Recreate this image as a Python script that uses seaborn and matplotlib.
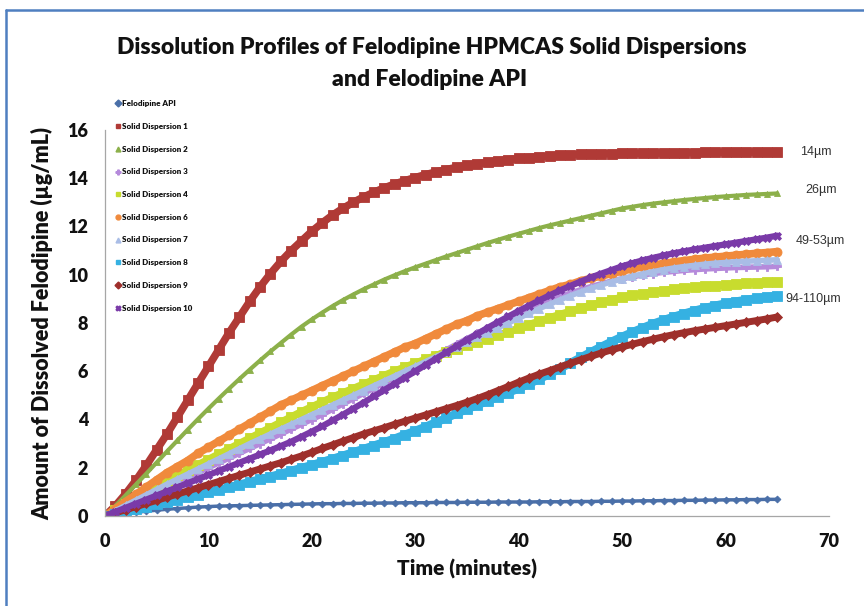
import matplotlib
matplotlib.use("Agg")
import matplotlib.pyplot as plt
import seaborn as sns
from matplotlib.lines import Line2D

# ---------------- data ----------------
time_min = list(range(0, 66))

felodipine_api = [0.0, 0.05, 0.1, 0.15, 0.2, 0.24, 0.28, 0.31, 0.34, 0.37, 0.39, 0.41, 0.42, 0.43, 0.44, 0.45,
                  0.46, 0.47, 0.48, 0.49, 0.5, 0.51, 0.51, 0.52, 0.52, 0.53, 0.53, 0.54, 0.54, 0.55, 0.55,
                  0.55, 0.56, 0.56, 0.56, 0.57, 0.57, 0.57, 0.58, 0.58, 0.58, 0.58, 0.59, 0.59, 0.59, 0.6,
                  0.6, 0.6, 0.61, 0.61, 0.62, 0.62, 0.63, 0.63, 0.64, 0.64, 0.65, 0.65, 0.66, 0.66, 0.67,
                  0.67, 0.68, 0.68, 0.69, 0.69]
sd1 = [0.0, 0.42, 0.92, 1.48, 2.1, 2.75, 3.4, 4.1, 4.8, 5.5, 6.2, 6.9, 7.6, 8.25, 8.9, 9.5, 10.05, 10.55,
       11.0, 11.4, 11.8, 12.15, 12.47, 12.75, 13.0, 13.22, 13.42, 13.6, 13.76, 13.9, 14.03, 14.15, 14.26,
       14.36, 14.45, 14.53, 14.6, 14.66, 14.72, 14.77, 14.82, 14.86, 14.89, 14.92, 14.95, 14.97, 14.99,
       15.0, 15.01, 15.02, 15.03, 15.03, 15.04, 15.04, 15.05, 15.05, 15.06, 15.06, 15.07, 15.07, 15.08,
       15.08, 15.08, 15.09, 15.09, 15.1]
sd2 = [0.0, 0.42, 0.86, 1.31, 1.76, 2.22, 2.68, 3.13, 3.58, 4.02, 4.45, 4.87, 5.28, 5.68, 6.07, 6.45, 6.82,
       7.17, 7.52, 7.85, 8.15, 8.43, 8.7, 8.95, 9.18, 9.4, 9.6, 9.8, 9.98, 10.15, 10.31, 10.46, 10.61, 10.76,
       10.9, 11.04, 11.18, 11.32, 11.45, 11.58, 11.7, 11.82, 11.94, 12.05, 12.15, 12.25, 12.35, 12.45, 12.55,
       12.65, 12.75, 12.82, 12.89, 12.95, 13.0, 13.05, 13.1, 13.14, 13.18, 13.22, 13.25, 13.28, 13.31,
       13.33, 13.35, 13.37]
sd3 = [0.0, 0.2, 0.4, 0.6, 0.8, 1.0, 1.2, 1.4, 1.6, 1.8, 2.0, 2.2, 2.4, 2.6, 2.8, 3.0, 3.2, 3.4, 3.6, 3.8,
       4.0, 4.2, 4.42, 4.64, 4.86, 5.08, 5.3, 5.52, 5.75, 5.97, 6.2, 6.43, 6.66, 6.89, 7.12, 7.35, 7.57, 7.79,
       8.0, 8.2, 8.4, 8.58, 8.76, 8.93, 9.09, 9.24, 9.38, 9.51, 9.63, 9.74, 9.84, 9.92, 9.99, 10.05, 10.1,
       10.14, 10.18, 10.21, 10.24, 10.26, 10.28, 10.3, 10.31, 10.32, 10.33, 10.35]
sd4 = [0.0, 0.25, 0.5, 0.75, 0.98, 1.2, 1.45, 1.68, 1.9, 2.12, 2.34, 2.56, 2.78, 3.0, 3.22, 3.44, 3.66, 3.88,
       4.1, 4.32, 4.52, 4.72, 4.92, 5.1, 5.28, 5.46, 5.64, 5.82, 6.0, 6.17, 6.33, 6.49, 6.64, 6.79, 6.93, 7.07,
       7.21, 7.35, 7.49, 7.63, 7.78, 7.93, 8.07, 8.21, 8.35, 8.48, 8.61, 8.73, 8.85, 8.96, 9.06, 9.14, 9.21,
       9.28, 9.34, 9.39, 9.44, 9.48, 9.52, 9.55, 9.58, 9.61, 9.64, 9.67, 9.69, 9.71]
sd6 = [0.0, 0.3, 0.6, 0.9, 1.2, 1.5, 1.8, 2.05, 2.3, 2.6, 2.85, 3.1, 3.35, 3.6, 3.85, 4.1, 4.35, 4.6, 4.8,
       5.0, 5.2, 5.4, 5.6, 5.8, 6.0, 6.2, 6.4, 6.6, 6.8, 7.0, 7.15, 7.35, 7.55, 7.75, 7.95, 8.1, 8.3, 8.45,
       8.6, 8.75, 8.9, 9.05, 9.2, 9.35, 9.5, 9.6, 9.75, 9.85, 9.95, 10.05, 10.15, 10.25, 10.33, 10.4, 10.47,
       10.53, 10.59, 10.64, 10.69, 10.73, 10.77, 10.81, 10.85, 10.89, 10.92, 10.96]
sd7 = [0.0, 0.22, 0.44, 0.66, 0.88, 1.1, 1.32, 1.53, 1.74, 1.95, 2.16, 2.37, 2.58, 2.79, 3.0, 3.2, 3.4, 3.6,
       3.8, 4.0, 4.2, 4.4, 4.6, 4.8, 5.0, 5.2, 5.4, 5.6, 5.8, 6.0, 6.2, 6.4, 6.6, 6.8, 7.0, 7.2, 7.4, 7.6, 7.8,
       8.0, 8.2, 8.4, 8.6, 8.78, 8.96, 9.13, 9.29, 9.44, 9.58, 9.71, 9.83, 9.94, 10.04, 10.13, 10.21, 10.28,
       10.34, 10.39, 10.44, 10.48, 10.51, 10.54, 10.56, 10.58, 10.6, 10.62]
sd8 = [0.0, 0.09, 0.18, 0.28, 0.38, 0.48, 0.58, 0.68, 0.78, 0.88, 0.98, 1.08, 1.19, 1.3, 1.41, 1.52, 1.63,
       1.75, 1.87, 1.99, 2.11, 2.24, 2.37, 2.5, 2.64, 2.78, 2.92, 3.06, 3.21, 3.37, 3.53, 3.7, 3.88, 4.06,
       4.25, 4.43, 4.6, 4.77, 4.94, 5.11, 5.29, 5.48, 5.68, 5.89, 6.11, 6.34, 6.57, 6.8, 7.02, 7.23, 7.43,
       7.62, 7.8, 7.97, 8.12, 8.26, 8.39, 8.51, 8.62, 8.72, 8.81, 8.89, 8.96, 9.02, 9.07, 9.12]
sd9 = [0.0, 0.13, 0.26, 0.39, 0.52, 0.65, 0.78, 0.91, 1.04, 1.17, 1.3, 1.43, 1.56, 1.69, 1.82, 1.95, 2.08,
       2.21, 2.35, 2.49, 2.64, 2.8, 2.95, 3.1, 3.25, 3.4, 3.53, 3.66, 3.8, 3.93, 4.06, 4.19, 4.32, 4.45, 4.58,
       4.72, 4.87, 5.03, 5.2, 5.37, 5.55, 5.72, 5.88, 6.03, 6.18, 6.33, 6.48, 6.62, 6.76, 6.89, 7.01, 7.12,
       7.23, 7.33, 7.43, 7.52, 7.6, 7.68, 7.75, 7.82, 7.89, 7.96, 8.03, 8.1, 8.17, 8.25]
sd10 = [0.0, 0.17, 0.34, 0.51, 0.68, 0.85, 1.02, 1.19, 1.36, 1.53, 1.7, 1.87, 2.04, 2.21, 2.38, 2.55, 2.72,
        2.9, 3.08, 3.29, 3.5, 3.72, 3.96, 4.2, 4.45, 4.7, 4.96, 5.22, 5.48, 5.74, 6.0, 6.26, 6.52, 6.78,
        7.04, 7.3, 7.55, 7.8, 8.04, 8.27, 8.5, 8.72, 8.94, 9.15, 9.35, 9.54, 9.72, 9.89, 10.05, 10.2,
        10.35, 10.48, 10.6, 10.7, 10.8, 10.89, 10.97, 11.05, 11.12, 11.19, 11.26, 11.33, 11.4, 11.47, 11.54,
        11.62]

series_names = ["Felodipine API", "Solid Dispersion 1", "Solid Dispersion 2", "Solid Dispersion 3",
                "Solid Dispersion 4", "Solid Dispersion 6", "Solid Dispersion 7", "Solid Dispersion 8",
                "Solid Dispersion 9", "Solid Dispersion 10"]
series_values = [felodipine_api, sd1, sd2, sd3, sd4, sd6, sd7, sd8, sd9, sd10]

size_labels = ["14\u00b5m", "26\u00b5m", "49-53\u00b5m", "94-110\u00b5m"]
x_ticks = [0, 10, 20, 30, 40, 50, 60, 70]
y_ticks = [0, 2, 4, 6, 8, 10, 12, 14, 16]

# ---------------- styles ----------------
colors = ["#4A6FA8", "#B03A36", "#8CB04A", "#B58ADB", "#C8DC2E", "#F08A3C",
          "#A9BDE6", "#35B1E2", "#9E2F2B", "#7A3AA8"]
markers = ["D", "s", "^", "P", "s", "o", "^", "s", "D", "X"]
msizes = [3.5, 6.5, 4.5, 5.5, 6.5, 6.5, 5.5, 6.5, 5.5, 5.5]
lwidths = [2.5, 5.5, 3.0, 4.0, 5.5, 5.5, 4.0, 6.0, 5.0, 4.5]

sns.set_theme(style="white")
plt.rcParams['font.family'] = ['Lato', 'DejaVu Sans']

fig = plt.figure(figsize=(8.64, 6.06), dpi=100)
ax = fig.add_axes([105 / 864, 1 - 516 / 606, 724 / 864, 386 / 606])

for name, vals, c, m, ms, lw in zip(series_names, series_values, colors, markers, msizes, lwidths):
    sns.lineplot(x=time_min, y=vals, ax=ax, color=c, linewidth=lw, marker=m, markersize=ms,
                 markeredgecolor=c, markeredgewidth=0.6, label=name, legend=False)

ax.set_xlim(0, 70)
ax.set_ylim(0, 16)
ax.set_xticks(x_ticks)
ax.set_yticks(y_ticks)
ax.tick_params(axis='both', which='major', labelsize=13, length=4, width=0.8, color="#A0A0A0",
               direction='out', pad=8)
for lab in ax.get_xticklabels() + ax.get_yticklabels():
    lab.set_fontweight('heavy')
    lab.set_color('#111111')
for side in ["top", "right"]:
    ax.spines[side].set_visible(False)
for side in ["left", "bottom"]:
    ax.spines[side].set_color("#A6A6A6")
    ax.spines[side].set_linewidth(0.9)

ax.set_xlabel("Time (minutes)", fontsize=15, fontweight='heavy', labelpad=7, color='#111111')
ax.set_ylabel("Amount of Dissolved Felodipine (\u00b5g/mL)", fontsize=15.5, fontweight='heavy',
              labelpad=10, color='#111111')

fig.text(0.5, 1 - 47 / 606, "Dissolution Profiles of Felodipine HPMCAS Solid Dispersions",
         ha='center', va='center', fontsize=16.5, fontweight='heavy', color='#111111')
fig.text(0.497, 1 - 80 / 606, "and Felodipine API", ha='center', va='center', fontsize=16.5,
         fontweight='heavy', color='#111111')

# legend
handles = [Line2D([0], [0], color=c, marker=m, linestyle='none', markersize=3.5, markeredgecolor=c)
           for c, m in zip(colors, markers)]
leg = ax.legend(handles, series_names, loc='upper left', bbox_to_anchor=(112 / 864, 1 - 97 / 606),
                bbox_transform=fig.transFigure, frameon=False, fontsize=5.8, labelspacing=1.95,
                handlelength=0.6, handletextpad=0.3, borderaxespad=0)
for t in leg.get_texts():
    t.set_fontweight('heavy')
    t.set_color('#111111')

# particle size annotations
label_pos = [(67.2, 15.1), (67.7, 13.5), (66.8, 11.4), (65.8, 9.0)]
for txt, (xx, yy) in zip(size_labels, label_pos):
    ax.text(xx, yy, txt, fontsize=9, ha='left', va='center', color="#333333",
            family=['Liberation Sans', 'DejaVu Sans'], clip_on=False)

# blue frame (top and left edges visible)
fig.add_artist(Line2D([6 / 864, 6 / 864], [0, 1 - 10 / 606], transform=fig.transFigure,
                      color="#4F7FC0", linewidth=1.8))
fig.add_artist(Line2D([6 / 864, 1], [1 - 10 / 606, 1 - 10 / 606], transform=fig.transFigure,
                      color="#4F7FC0", linewidth=1.8))

fig.savefig("out.png", dpi=100)
